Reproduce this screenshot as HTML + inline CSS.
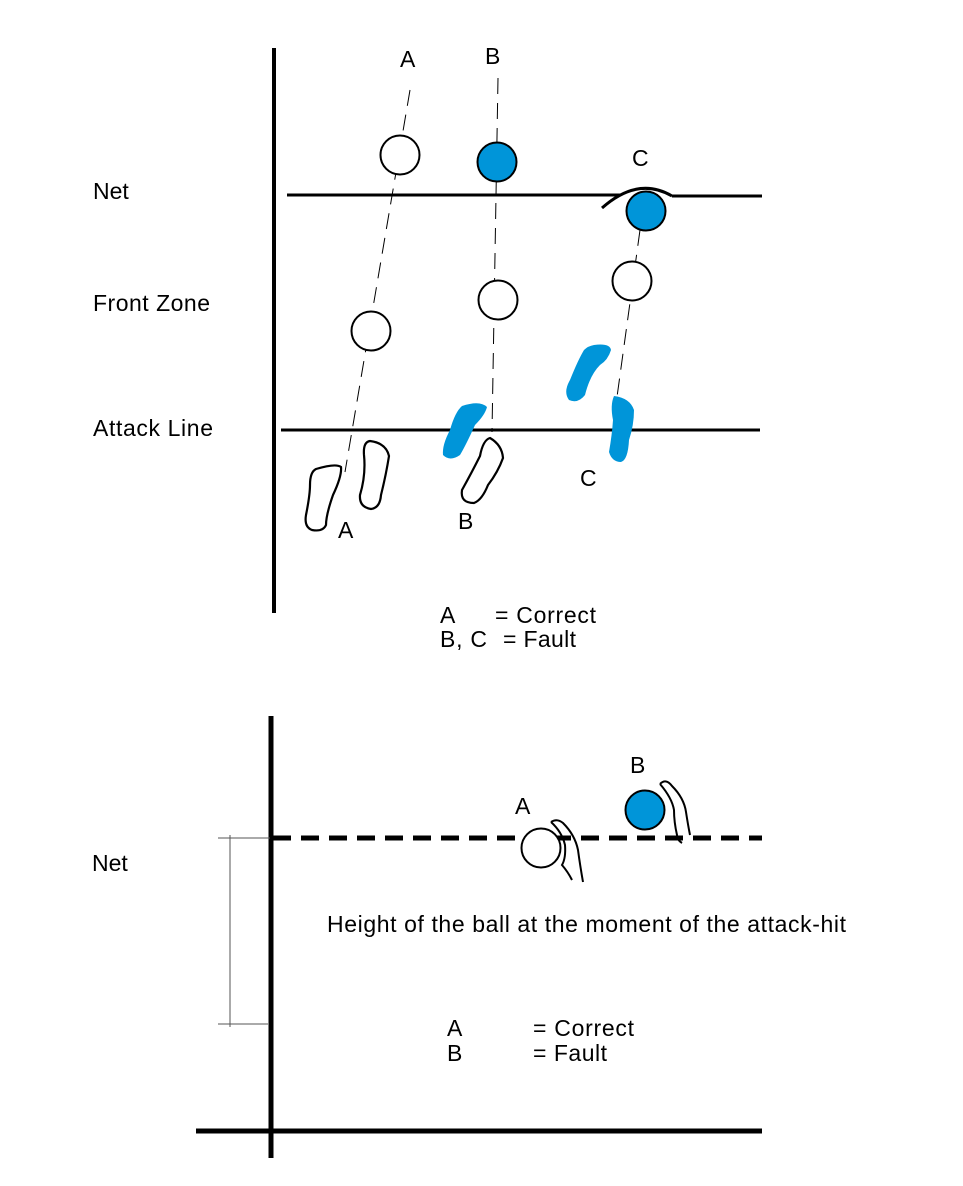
<!DOCTYPE html>
<html><head><meta charset="utf-8"><style>
html,body{margin:0;padding:0;background:#fff}
svg{display:block}
text{font-family:"Liberation Sans",sans-serif;font-size:23px;fill:#000}
</style></head><body>
<svg width="963" height="1186" viewBox="0 0 963 1186" xmlns="http://www.w3.org/2000/svg">
<rect width="963" height="1186" fill="#fff"/>
<!-- TOP -->
<line x1="274" y1="48" x2="274" y2="613" stroke="#000" stroke-width="4"/>
<line x1="287" y1="195" x2="620" y2="195" stroke="#000" stroke-width="3"/>
<line x1="672" y1="196" x2="762" y2="196" stroke="#000" stroke-width="3"/>
<path d="M602,208 Q638,176 672,196" fill="none" stroke="#000" stroke-width="3"/>
<line x1="281" y1="430" x2="760" y2="430" stroke="#000" stroke-width="3"/>
<g stroke="#000" stroke-width="1" stroke-dasharray="16,9" fill="none">
<line x1="410" y1="90" x2="345" y2="472"/>
<line x1="498" y1="78" x2="492" y2="432"/>
<line x1="640" y1="230" x2="617" y2="397"/>
</g>
<g stroke="#000" stroke-width="2">
<circle cx="400" cy="155" r="19.5" fill="#fff"/>
<circle cx="497" cy="162" r="19.5" fill="#0095d9"/>
<circle cx="646" cy="211" r="19.5" fill="#0095d9"/>
<circle cx="371" cy="331" r="19.5" fill="#fff"/>
<circle cx="498" cy="300" r="19.5" fill="#fff"/>
<circle cx="632" cy="281" r="19.5" fill="#fff"/>
</g>
<!-- feet -->
<g fill="none" stroke="#000" stroke-width="2.2">
<path d="M316,469 Q336,463 341,467 Q342,476 333,495 Q326,515 326,525 Q323,532 312,530 Q304,527 306,515 Q310,495 310,485 Q310,472 316,469 Z"/>
<path d="M370,441 Q386,443 389,456 Q386,475 381,495 Q380,508 371,509 Q359,507 360,495 Q366,475 364,455 Q363,442 370,441 Z"/>
<path d="M490,438 Q502,445 503,458 Q498,472 488,485 Q482,500 474,503 Q460,503 462,490 Q472,472 480,456 Q483,440 490,438 Z"/>
</g>
<g fill="#0095d9">
<path d="M462,406 Q480,400 487,407 Q485,415 475,425 Q466,445 460,455 Q450,462 443,455 Q442,445 450,430 Q455,412 462,406 Z"/>
<path d="M594,345 Q610,343 611,350 Q608,360 600,365 Q590,375 585,395 Q578,404 569,400 Q563,392 570,380 Q578,360 584,350 Q588,346 594,345 Z"/>
<path d="M614,396 Q630,398 634,410 Q634,425 629,440 Q628,460 621,462 Q612,462 609,452 Q612,435 613,420 Q610,405 614,396 Z"/>
</g>
<text x="400" y="67">A</text>
<text x="485" y="64">B</text>
<text x="632" y="166">C</text>
<text x="93" y="199">Net</text>
<text x="93" y="311" textLength="117">Front Zone</text>
<text x="93" y="436" textLength="120">Attack Line</text>
<text x="338" y="538">A</text>
<text x="458" y="529">B</text>
<text x="580" y="486">C</text>
<text x="440" y="623">A</text>
<text x="495" y="623" textLength="101">= Correct</text>
<text x="440" y="647" textLength="47">B, C</text>
<text x="503" y="647" textLength="73">= Fault</text>
<!-- BOTTOM -->
<line x1="271" y1="716" x2="271" y2="1158" stroke="#000" stroke-width="5"/>
<line x1="196" y1="1131" x2="762" y2="1131" stroke="#000" stroke-width="5"/>
<line x1="273" y1="838" x2="762" y2="838" stroke="#000" stroke-width="5" stroke-dasharray="18,10"/>
<g stroke="#555" stroke-width="1">
<line x1="230" y1="835" x2="230" y2="1027"/>
<line x1="218" y1="838" x2="270" y2="838"/>
<line x1="218" y1="1024" x2="268" y2="1024"/>
</g>
<circle cx="541" cy="848" r="19.5" fill="#fff" stroke="#000" stroke-width="2"/>
<circle cx="645" cy="810" r="19.5" fill="#0095d9" stroke="#000" stroke-width="2"/>
<g fill="none" stroke="#000" stroke-width="2">
<path d="M551,822 Q557,818 563,823 Q575,835 578,850 Q580,865 583,882 M551,822 Q562,832 565,845 Q566,858 562,865 Q568,872 572,880"/>
<path d="M660,784 Q666,778 672,786 Q684,798 686,812 Q688,825 690,835 M660,784 Q672,798 674,810 Q674,822 677,835 Q677,840 682,843"/>
</g>
<text x="515" y="814">A</text>
<text x="630" y="773">B</text>
<text x="92" y="871">Net</text>
<text x="327" y="932" textLength="519">Height of the ball at the moment of the attack-hit</text>
<text x="447" y="1036">A</text>
<text x="533" y="1036" textLength="101">= Correct</text>
<text x="447" y="1061">B</text>
<text x="533" y="1061" textLength="74">= Fault</text>
</svg>
</body></html>
